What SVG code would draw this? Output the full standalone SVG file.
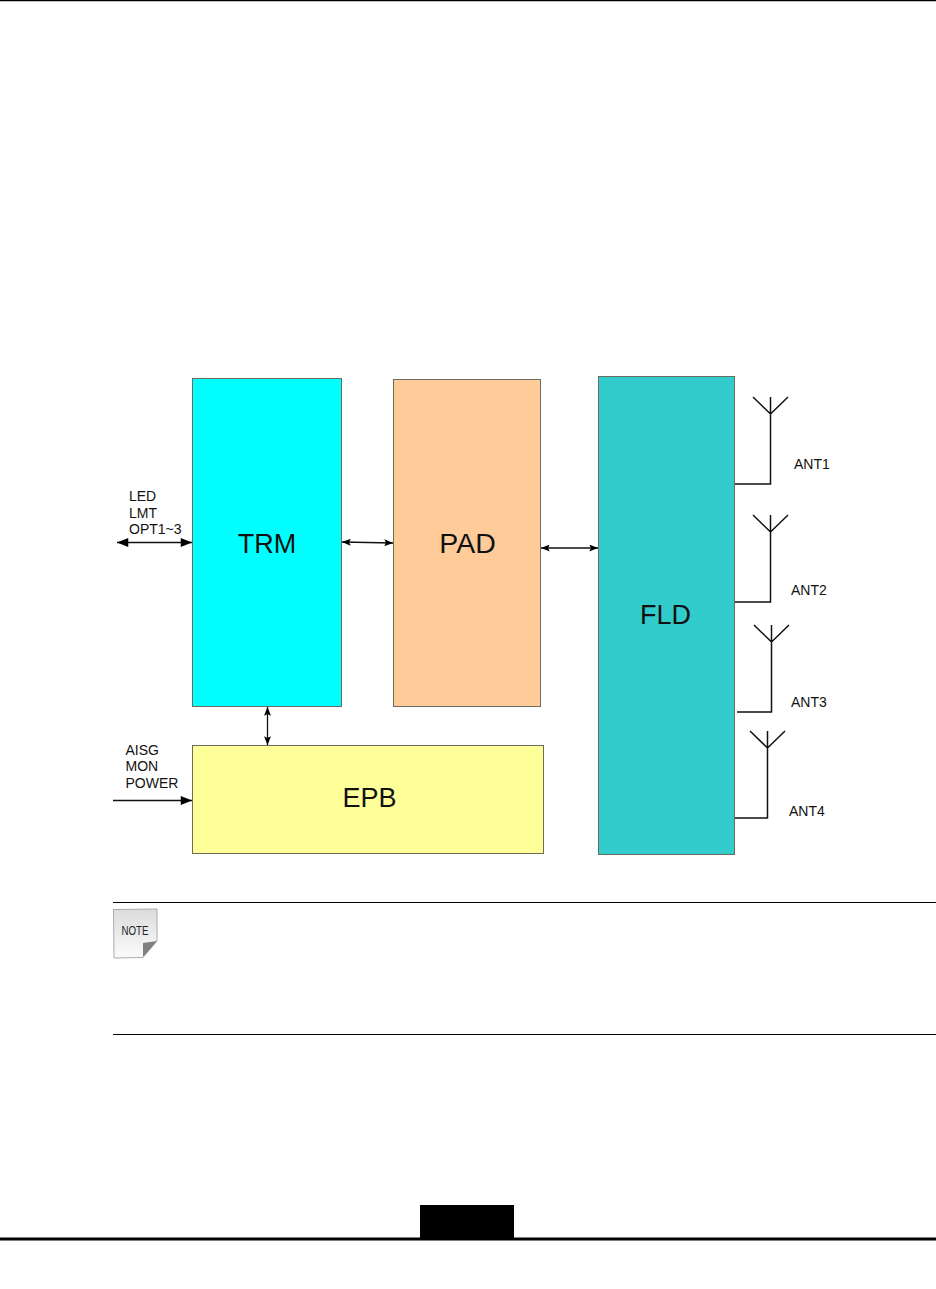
<svg xmlns="http://www.w3.org/2000/svg" width="936" height="1289" viewBox="0 0 936 1289">
<defs>
<linearGradient id="noteFill" x1="0" y1="0" x2="0" y2="1"><stop offset="0" stop-color="#dcdcdc"/><stop offset="1" stop-color="#fbfbfb"/></linearGradient>
<marker id="ah" viewBox="0 0 10 8" refX="10" refY="4" markerWidth="11" markerHeight="7" markerUnits="userSpaceOnUse" orient="auto-start-reverse"><path d="M0 0L10 4L0 8L2 4Z" fill="#000"/></marker>
<marker id="ahL" viewBox="0 0 10 8" refX="10" refY="4" markerWidth="13" markerHeight="9" markerUnits="userSpaceOnUse" orient="auto-start-reverse"><path d="M0 0L10 4L0 8Z" fill="#000"/></marker>
</defs>
<style>
.box{stroke:#6b6b5e;stroke-width:1}
.lbl{font-family:"Liberation Sans",Arial,sans-serif;font-size:27px;fill:#111;text-anchor:middle}
.sm{font-family:"Liberation Sans",Arial,sans-serif;font-size:14px;fill:#111}
.w{fill:none;stroke:#111;stroke-width:1.5}
.c{fill:none;stroke:#111;stroke-width:1.3;marker-end:url(#ah);marker-start:url(#ah)}
.cL{fill:none;stroke:#111;stroke-width:1.5;marker-end:url(#ahL);marker-start:url(#ahL)}
.rule{stroke:#000;fill:none}
</style>
<rect width="936" height="1289" fill="#fff"/>
<path class="rule" d="M0 0.5H936" stroke-width="1.5"/>
<path class="rule" d="M0 1239H936" stroke-width="3"/>
<rect x="420" y="1205" width="94" height="34" fill="#000"/>
<path class="rule" d="M113 902.500H936M113 1034.500H936" stroke-width="1"/>
<g id="TRM"><rect class="box" x="192.500" y="378.500" width="149" height="328" fill="#00ffff"/><text class="lbl" x="267" y="553">TRM</text></g>
<g id="PAD"><rect class="box" x="393.500" y="379.500" width="147" height="327" fill="#ffcc99"/><text class="lbl" x="467.500" y="553" style="font-size:28.500px">PAD</text></g>
<g id="FLD"><rect class="box" x="598.500" y="376.500" width="136" height="478" fill="#33cccc"/><text class="lbl" x="665.500" y="624">FLD</text></g>
<g id="EPB"><rect class="box" x="192.500" y="745.500" width="351" height="108" fill="#ffff99"/><text class="lbl" x="369.500" y="807">EPB</text></g>
<g id="connectors">
<path class="cL" d="M117 542.500H192"/>
<path class="c" d="M342 542L393 543"/>
<path class="c" d="M541 548H598"/>
<path class="c" d="M267.500 707V745"/>
<path class="cL" style="marker-start:none" d="M113 800.500H192"/>
</g>
<g id="ANT1"><path class="w" d="M735 484H770.500V397M753 397L770.500 414L788 397"/><text class="sm" x="794" y="469">ANT1</text></g>
<g id="ANT2"><path class="w" d="M735 602H770.500V515M753 515L770.500 532L788 515"/><text class="sm" x="791" y="595">ANT2</text></g>
<g id="ANT3"><path class="w" d="M737 712H771.500V625M754 625L771.500 642L789 625"/><text class="sm" x="791" y="707">ANT3</text></g>
<g id="ANT4"><path class="w" d="M735 818H767.500V731M750 731L767.500 748L785 731"/><text class="sm" x="789" y="816">ANT4</text></g>
<g id="in-labels">
<text class="sm" x="129" y="501">LED</text><text class="sm" x="129" y="518">LMT</text><text class="sm" x="129" y="534">OPT1~3</text>
<text class="sm" x="125.500" y="755">AISG</text><text class="sm" x="125.500" y="771">MON</text><text class="sm" x="125.500" y="788">POWER</text>
</g>
<g id="note">
<path d="M113.500 909.500L157 909V941L143 957.500L114 958Z" fill="url(#noteFill)" stroke="#aaa"/>
<path d="M157 941L143 957V943Z" fill="#808080"/>
<text x="135" y="935" font-family="Liberation Sans,Arial,sans-serif" font-size="12" fill="#222" text-anchor="middle" textLength="27" lengthAdjust="spacingAndGlyphs">NOTE</text>
</g>
</svg>
